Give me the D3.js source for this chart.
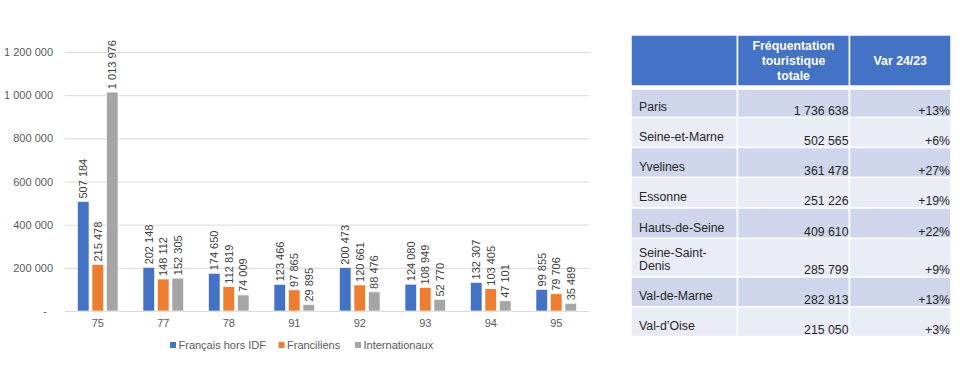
<!DOCTYPE html>
<html>
<head>
<meta charset="utf-8">
<script src="https://cdn.jsdelivr.net/npm/d3@7"></script>
<style>
  body { margin: 0; background: #fff; }
  svg { font-family: "Liberation Sans", Arial, sans-serif; }
</style>
</head>
<body>
<div id="container"></div>
<script>
/* DATA */
const departements = ["75", "77", "78", "91", "92", "93", "94", "95"];
const seriesNames = ["Français hors IDF", "Franciliens", "Internationaux"];
const francaisHorsIdf = [507184, 202148, 174650, 123466, 200473, 124080, 132307, 99855];
const franciliens = [215478, 148112, 112819, 97865, 120661, 108949, 103405, 79706];
const internationaux = [1013976, 152305, 74009, 29895, 88476, 52770, 47101, 35489];
const yTicks = [0, 200000, 400000, 600000, 800000, 1000000, 1200000];

const tableHeader = ["", "Fréquentation\ntouristique\ntotale", "Var 24/23"];
const tableNames = ["Paris", "Seine-et-Marne", "Yvelines", "Essonne", "Hauts-de-Seine", "Seine-Saint-\nDenis", "Val-de-Marne", "Val-d\u2019Oise"];
const tableTotals = [1736638, 502565, 361478, 251226, 409610, 285799, 282813, 215050];
const tableVar = ["+13%", "+6%", "+27%", "+19%", "+22%", "+9%", "+13%", "+3%"];

/* CONSTANTS */
const width = 962, height = 370;
const margin = {top: 52, bottom: 59, left: 65, right: 373};
const colors = ["#4472C4", "#ED7D31", "#A5A5A5"];
const textColor = "#595959";

const fmt = n => d3.format(",")(n).replace(/,/g, " ");

const svg = d3.select("#container").append("svg")
  .attr("width", width)
  .attr("height", height);

/* SCALES */
const xScale = d3.scaleBand()
  .domain(departements)
  .range([margin.left, width - margin.right]);

const inner = d3.scaleBand()
  .domain(seriesNames)
  .range([-20.25, 20.25])
  .paddingInner(0.207);

const yScale = d3.scaleLinear()
  .domain([0, 1200000])
  .range([height - margin.bottom, margin.top]);

const colorScale = d3.scaleOrdinal().domain(seriesNames).range(colors);

/* GRID + Y AXIS */
const yAxis = d3.axisLeft(yScale)
  .tickValues(yTicks)
  .tickSize(-(width - margin.left - margin.right))
  .tickFormat(d => d === 0 ? "-" : fmt(d));

const yAxisGroup = svg.append("g")
  .attr("transform", `translate(${margin.left},0)`)
  .call(yAxis);
yAxisGroup.select(".domain").remove();
yAxisGroup.selectAll(".tick line").attr("stroke", "#D9D9D9");
yAxisGroup.selectAll(".tick text")
  .attr("x", d => d === 0 ? -18 : -12)
  .attr("fill", textColor)
  .style("font-size", "11px");

/* X AXIS */
const xAxis = d3.axisBottom(xScale).tickSize(0).tickPadding(8);
const xAxisGroup = svg.append("g")
  .attr("transform", `translate(0,${height - margin.bottom})`)
  .call(xAxis);
xAxisGroup.select(".domain").attr("stroke", "#D9D9D9");
xAxisGroup.selectAll(".tick text").attr("fill", textColor).style("font-size", "11px");

/* BARS */
const rows = departements.map((dep, i) => ({
  dep,
  values: [francaisHorsIdf[i], franciliens[i], internationaux[i]].map((v, j) => ({series: seriesNames[j], value: v}))
}));

const groups = svg.selectAll("g.group")
  .data(rows)
  .join("g")
  .attr("class", "group")
  .attr("transform", d => `translate(${xScale(d.dep) + xScale.bandwidth() / 2},0)`);

groups.selectAll("rect")
  .data(d => d.values)
  .join("rect")
  .attr("x", d => inner(d.series))
  .attr("width", inner.bandwidth())
  .attr("y", d => yScale(d.value))
  .attr("height", d => yScale(0) - yScale(d.value))
  .attr("fill", d => colorScale(d.series))
  .attr("stroke", "#fff")
  .attr("stroke-width", 0.6);

groups.selectAll("text.val")
  .data(d => d.values)
  .join("text")
  .attr("class", "val")
  .attr("transform", d => `translate(${inner(d.series) + inner.bandwidth() / 2},${yScale(d.value) - 3}) rotate(-90)`)
  .attr("dy", "0.35em")
  .attr("fill", "#404040")
  .style("font-size", "11px")
  .text(d => fmt(d.value));

/* LEGEND */
const legendX = [170, 278.5, 355];
const legend = svg.selectAll("g.legend")
  .data(seriesNames)
  .join("g")
  .attr("class", "legend")
  .attr("transform", (d, i) => `translate(${legendX[i]},345)`);
legend.append("rect")
  .attr("x", 0).attr("y", -3)
  .attr("width", 6).attr("height", 6)
  .attr("fill", d => colorScale(d));
legend.append("text")
  .attr("x", 8.5).attr("dy", "0.35em")
  .attr("fill", textColor)
  .style("font-size", "11px")
  .text(d => d);

/* TABLE */
const colEdges = [631, 737.5, 849.5, 951];
const headTop = 35, headBottom = 86;
const rowEdges = [89, 117.5, 147.5, 177.5, 208, 238.5, 277, 307, 336.5];

const table = svg.append("g");

table.selectAll("rect.head")
  .data(tableHeader)
  .join("rect")
  .attr("class", "head")
  .attr("x", (d, i) => colEdges[i])
  .attr("y", headTop)
  .attr("width", (d, i) => colEdges[i + 1] - colEdges[i])
  .attr("height", headBottom - headTop)
  .attr("fill", "#4472C4")
  .attr("stroke", "#fff")
  .attr("stroke-width", 1.5);

table.selectAll("text.head")
  .data(tableHeader)
  .join("text")
  .attr("class", "head")
  .attr("x", (d, i) => (colEdges[i] + colEdges[i + 1]) / 2)
  .attr("text-anchor", "middle")
  .attr("fill", "#fff")
  .style("font-size", "12.3px")
  .style("font-weight", "bold")
  .each(function(d) {
    const lines = d.split("\n");
    const y0 = (headTop + headBottom) / 2 + 4.3 - (lines.length - 1) * 7.5;
    d3.select(this).selectAll("tspan")
      .data(lines)
      .join("tspan")
      .attr("x", d3.select(this).attr("x"))
      .attr("y", (l, k) => y0 + k * 15)
      .text(l => l);
  });

const tRows = tableNames.map((name, i) => ({name, total: tableTotals[i], v: tableVar[i], i}));

const rowG = table.selectAll("g.row")
  .data(tRows)
  .join("g")
  .attr("class", "row");

rowG.selectAll("rect")
  .data(d => [0, 1, 2].map(c => ({c, i: d.i})))
  .join("rect")
  .attr("x", d => colEdges[d.c])
  .attr("y", d => rowEdges[d.i])
  .attr("width", d => colEdges[d.c + 1] - colEdges[d.c])
  .attr("height", d => rowEdges[d.i + 1] - rowEdges[d.i])
  .attr("fill", d => d.i % 2 === 0 ? "#CFD5EA" : "#E9EBF5")
  .attr("stroke", "#fff")
  .attr("stroke-width", 1.5);

rowG.append("text")
  .attr("fill", "#262626")
  .style("font-size", "12.3px")
  .each(function(d) {
    const lines = d.name.split("\n");
    const bottom = rowEdges[d.i + 1] - 7;
    d3.select(this).selectAll("tspan")
      .data(lines)
      .join("tspan")
      .attr("x", 639)
      .attr("y", (l, k) => bottom - (lines.length - 1 - k) * 13.5)
      .text(l => l);
  });

rowG.append("text")
  .attr("x", colEdges[2] - 1)
  .attr("y", d => rowEdges[d.i + 1] - 3)
  .attr("text-anchor", "end")
  .attr("fill", "#262626")
  .style("font-size", "12.3px")
  .text(d => fmt(d.total));

rowG.append("text")
  .attr("x", colEdges[3] - 1)
  .attr("y", d => rowEdges[d.i + 1] - 3)
  .attr("text-anchor", "end")
  .attr("fill", "#262626")
  .style("font-size", "12.3px")
  .text(d => d.v);
</script>
</body>
</html>
